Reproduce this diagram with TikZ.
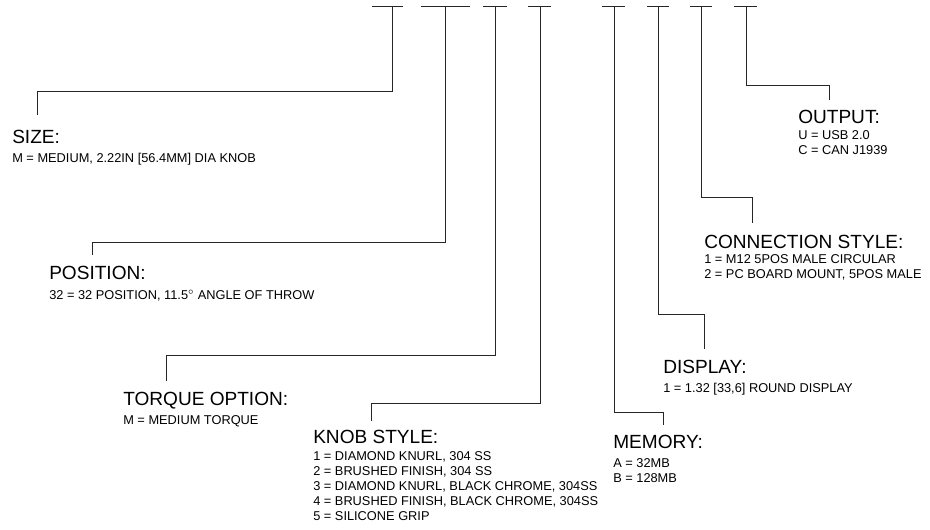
\documentclass[tikz,border=0pt]{standalone}
\usepackage{fontspec}
\setmainfont{Liberation Sans}
\begin{document}
\begin{tikzpicture}[x=0.75pt,y=-0.75pt,
  conn/.style={draw=black!85,line width=0.75pt},
  ttl/.style={anchor=base west,inner sep=0pt,font=\fontsize{14.3}{16}\selectfont},
  sub/.style={anchor=base west,inner sep=0pt,font=\fontsize{9.6}{11}\selectfont}]
\useasboundingbox (0,0) rectangle (930,529);
% T bars
\foreach \l/\r in {372/403,421/470,483/507,528/551,602/625,647/669,690/712,734/757}
  \draw[conn] (\l,6) -- (\r,6);
% top points of connectors
\coordinate (v1) at (392,6);
\coordinate (v2) at (445,6);
\coordinate (v3) at (495,6);
\coordinate (v4) at (540,6);
\coordinate (v5) at (614,6);
\coordinate (v6) at (658,6);
\coordinate (v7) at (701,6);
\coordinate (v8) at (746,6);
% corners
\coordinate (k1) at (392,91);
\coordinate (k2) at (445,242);
\coordinate (k3) at (495,355);
\coordinate (k4) at (540,403);
\coordinate (k5) at (614,412);
\coordinate (k6) at (658,314);
\coordinate (k7) at (701,197);
\coordinate (k8) at (746,85);
% free ends
\coordinate (e1) at (37,115);
\coordinate (e2) at (92,255);
\coordinate (e3) at (166,381);
\coordinate (e4) at (371,421);
\coordinate (e5) at (663,425);
\coordinate (e6) at (704,349);
\coordinate (e7) at (752,223);
\coordinate (e8) at (829,100);
\foreach \i in {1,...,8}
  \draw[conn] (v\i) -- (k\i) -| (e\i);
% SIZE
\node[ttl] (sizeT) at (12,143) {SIZE:};
\node[sub] (sizeA) at (12,162) {M = MEDIUM, 2.22IN [56.4MM] DIA KNOB};
% POSITION
\node[ttl] (posT) at (49,279) {POSITION:};
\node[sub] (posA) at (49,299) {32 = 32 POSITION, 11.5$^{\circ}$ ANGLE OF THROW};
% TORQUE
\node[ttl] (torT) at (123,405) {TORQUE OPTION:};
\node[sub] (torA) at (123,424) {M = MEDIUM TORQUE};
% KNOB
\node[ttl] (knbT) at (313,443) {KNOB STYLE:};
\node[sub] (knbA) at (313,460) {1 = DIAMOND KNURL, 304 SS};
\node[sub] (knbB) at (313,475) {2 = BRUSHED FINISH, 304 SS};
\node[sub] (knbC) at (313,490) {3 = DIAMOND KNURL, BLACK CHROME, 304SS};
\node[sub] (knbD) at (313,505) {4 = BRUSHED FINISH, BLACK CHROME, 304SS};
\node[sub] (knbE) at (313,520) {5 = SILICONE GRIP};
% MEMORY
\node[ttl] (memT) at (613,448) {MEMORY:};
\node[sub] (memA) at (613,467) {A = 32MB};
\node[sub] (memB) at (613,482) {B = 128MB};
% DISPLAY
\node[ttl] (dspT) at (663,373) {DISPLAY:};
\node[sub] (dspA) at (663,392) {1 = 1.32 [33,6] ROUND DISPLAY};
% CONNECTION
\node[ttl] (conT) at (704,248) {CONNECTION STYLE:};
\node[sub] (conA) at (704,263) {1 = M12 5POS MALE CIRCULAR};
\node[sub] (conB) at (704,278) {2 = PC BOARD MOUNT, 5POS MALE};
% OUTPUT
\node[ttl] (outT) at (798,123) {OUTPUT:};
\node[sub] (outA) at (798,139) {U = USB 2.0};
\node[sub] (outB) at (798,154) {C = CAN J1939};
\end{tikzpicture}
\end{document}
